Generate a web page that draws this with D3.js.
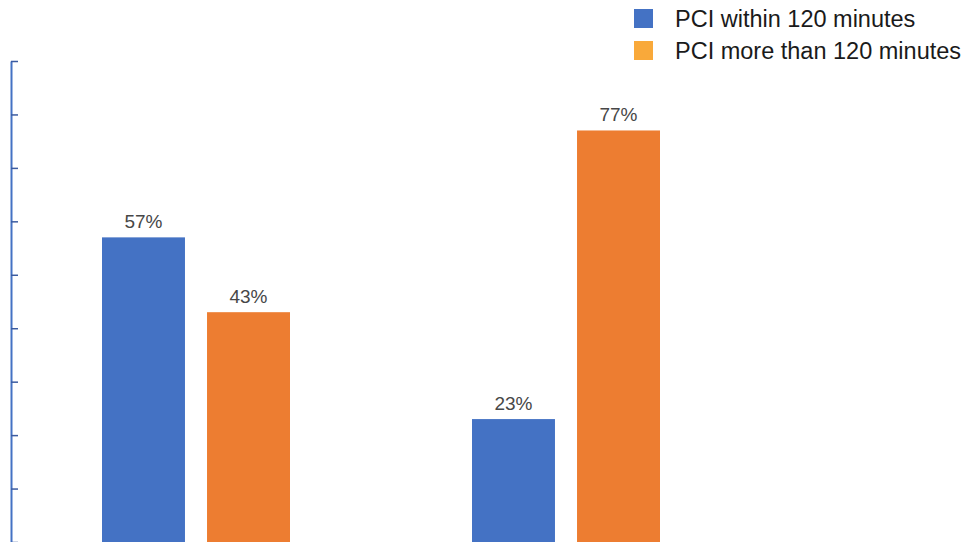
<!DOCTYPE html>
<html>
<head>
<meta charset="utf-8">
<script src="https://cdn.jsdelivr.net/npm/d3@7"></script>
<style>
  body { margin: 0; background: #fff; }
  svg { display: block; font-family: Arial, "Liberation Sans", sans-serif; }
</style>
</head>
<body>
<div id="chart"></div>
<script>
const categories = ['A', 'B']
const seriesNames = ['PCI within 120 minutes', 'PCI more than 120 minutes']
const within120 = [0.57, 0.23]
const moreThan120 = [0.43, 0.77]
const yTicks = [0, 0.1, 0.2, 0.3, 0.4, 0.5, 0.6, 0.7, 0.8, 0.9]

const barColors = ['#4472C4', '#ED7D31']
const legendColors = ['#4472C4', '#F9A93A']

const width = 962, height = 542
const svg = d3.select('#chart').append('svg')
  .attr('width', width).attr('height', height)

const x = d3.scaleBand().domain(categories).range([11, 751])
const inner = d3.scaleBand().domain(seriesNames).range([0, 188]).paddingInner(0.21)
const y = d3.scaleLinear().domain([0, 0.9]).range([542, 61])

const rows = categories.map((c, i) => ({
  cat: c,
  vals: [within120[i], moreThan120[i]]
}))

const groups = svg.selectAll('g.group').data(rows).enter()
  .append('g')
    .attr('class', 'group')
    .attr('transform', d => 'translate(' + (x(d.cat) + x.bandwidth() / 2 - 94) + ',0)')

groups.selectAll('rect')
  .data(d => d.vals.map((v, j) => ({ name: seriesNames[j], value: v, j: j })))
  .enter().append('rect')
    .attr('x', d => inner(d.name))
    .attr('width', inner.bandwidth())
    .attr('y', d => y(d.value))
    .attr('height', d => y(0) - y(d.value))
    .attr('fill', d => barColors[d.j])

groups.selectAll('text')
  .data(d => d.vals.map((v, j) => ({ name: seriesNames[j], value: v })))
  .enter().append('text')
    .attr('x', d => inner(d.name) + inner.bandwidth() / 2)
    .attr('y', d => y(d.value) - 9)
    .attr('text-anchor', 'middle')
    .attr('fill', '#474747')
    .style('font-size', '19px')
    .text(d => Math.round(d.value * 100) + '%')

// y axis, ticks pointing inward, no labels
const yAxis = svg.append('g')
  .attr('transform', 'translate(11,0)')
  .call(d3.axisRight(y).tickValues(yTicks).tickSize(7).tickSizeOuter(0).tickFormat(''))
yAxis.select('.domain').attr('stroke', '#4472C4').attr('stroke-width', 2)
yAxis.selectAll('.tick line').attr('stroke', '#3B5BA0').attr('stroke-width', 1.5)

// legend
const legend = svg.append('g').attr('transform', 'translate(634,9)')
const li = legend.selectAll('g').data(seriesNames).enter()
  .append('g').attr('transform', (d, i) => 'translate(0,' + i * 32 + ')')
li.append('rect').attr('width', 19).attr('height', 19)
  .attr('fill', (d, i) => legendColors[i])
li.append('text').attr('x', 41).attr('y', 18)
  .attr('fill', '#1a1a1a')
  .style('font-size', '23.5px')
  .text(d => d)
</script>
</body>
</html>
